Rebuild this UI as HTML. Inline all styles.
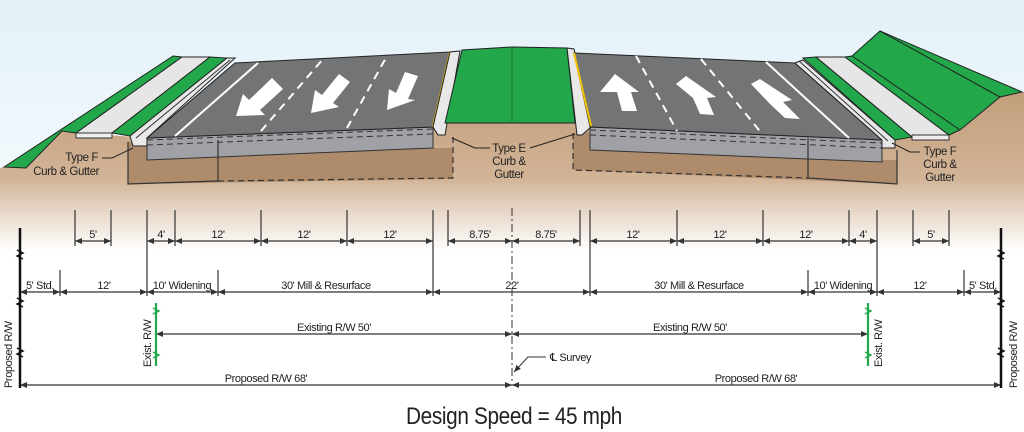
<!DOCTYPE html>
<html><head><meta charset="utf-8"><style>
html,body{margin:0;padding:0;background:#fff}
svg{display:block}
text{font-family:"Liberation Sans",sans-serif;fill:#222;letter-spacing:-0.4px}
</style></head><body>
<svg width="1024" height="432" viewBox="0 0 1024 432" xmlns="http://www.w3.org/2000/svg">
<defs>
<linearGradient id="sky" x1="0" y1="0" x2="0" y2="1"><stop offset="0" stop-color="#e3f1f8"/><stop offset="1" stop-color="#f4fafd"/></linearGradient>
<linearGradient id="grd" x1="0" y1="0" x2="0" y2="1"><stop offset="0" stop-color="#c19e7b"/><stop offset="0.55" stop-color="#d2b497"/><stop offset="1" stop-color="#ffffff"/></linearGradient>
<marker id="a" markerWidth="8" markerHeight="8" refX="7" refY="4" orient="auto-start-reverse" markerUnits="userSpaceOnUse"><path d="M0,1 L7,4 L0,7 z" fill="#333"/></marker>
</defs>
<rect width="1024" height="432" fill="#fff"/>
<rect width="1024" height="200" fill="url(#sky)"/>
<path d="M0,168 L4,167 L62,131 L145,138 L433,127 L450,123 L575,123 L590,127 L882,140 L960,130 L1000,97 L1024,92 L1024,250 L0,250 z" fill="url(#grd)"/>
<path d="M128,142 L147,140 L147,160 L433,148 L453,148 L453,179 L128,184 z" fill="#ad8b6b"/>
<path d="M147,138 L433,127 L433,148 L147,160 z" fill="#9fa1a6" stroke="#333" stroke-width="1"/>
<path d="M128,142 L128,184 L218,181" fill="none" stroke="#333" stroke-width="1.2"/>
<path d="M218,181 L453,178 L453,136" fill="none" stroke="#333" stroke-width="1.2" stroke-dasharray="6,4"/>
<line x1="218" y1="140" x2="218" y2="181" stroke="#333" stroke-width="1.2"/>
<path d="M147,140 L433,129 M147,145 L433,134" stroke="#333" stroke-width="1" stroke-dasharray="6,4"/>
<path d="M573,133 L590,132 L590,150 L882,160 L897,160 L897,184 L573,170 z" fill="#ad8b6b"/>
<path d="M590,127 L882,140 L882,162 L590,150 z" fill="#9fa1a6" stroke="#333" stroke-width="1"/>
<path d="M573,133 L573,170 L808,178" fill="none" stroke="#333" stroke-width="1.2" stroke-dasharray="6,4"/>
<path d="M808,138 L808,178 L897,184 L897,150" fill="none" stroke="#333" stroke-width="1.2"/>
<path d="M590,130 L882,143 M590,135 L882,148" stroke="#333" stroke-width="1" stroke-dasharray="6,4"/>
<path d="M4,167 L173,56 L182,57 L76,133 L62,131 L26,168 z" fill="#22a84a" stroke="#222" stroke-width="1"/>
<path d="M76,133 L182,57 L210,57 L112,133 z" fill="#e6e6e6" stroke="#222" stroke-width="1"/>
<rect x="76" y="133" width="36" height="5" fill="#eee" stroke="#333" stroke-width="1"/>
<path d="M112,133 L210,57 L227,58 L130,136 z" fill="#22a84a" stroke="#222" stroke-width="1"/>
<path d="M130,136 L227,58 L235,58 L147,138 L147,146 L133,146 z" fill="#e8e8e8" stroke="#222" stroke-width="1"/>
<line x1="136" y1="138" x2="230" y2="60" stroke="#333"/>
<path d="M147,138 L235,63 L450,52 L433,127 z" fill="#737476" stroke="#222" stroke-width="1"/>
<line x1="175" y1="136" x2="258" y2="63" stroke="#fff" stroke-width="2"/>
<line x1="261" y1="131" x2="323" y2="59" stroke="#fff" stroke-width="2" stroke-dasharray="8,6"/>
<line x1="347" y1="128" x2="387" y2="56" stroke="#fff" stroke-width="2" stroke-dasharray="8,6"/>
<line x1="433" y1="127" x2="450" y2="52" stroke="#f2c200" stroke-width="2"/>
<path d="M236,116 L243,94 L249,100 L272,78 L283,89 L260,110 L265,115 z" fill="#fff"/>
<path d="M311,113 L315,90 L322,95 L339,74 L350,82 L333,103 L339,107 z" fill="#fff"/>
<path d="M387,110 L389,89 L396,93 L405,72 L418,76 L408,99 L415,100 z" fill="#fff"/>
<path d="M433,127 L450,52 L460,51 L445,135 L438,135 z" fill="#e8e8e8" stroke="#222" stroke-width="1"/>
<path d="M445,123 L462,50 L512,47 L567,48 L575,123 z" fill="#22a84a" stroke="#222" stroke-width="1"/>
<line x1="512" y1="47" x2="512" y2="123" stroke="#1a7a35"/>
<path d="M567,48 L574,49 L591,127 L582,135 L577,135 z" fill="#e8e8e8" stroke="#222" stroke-width="1"/>
<path d="M574,53 L795,63 L882,140 L590,127 z" fill="#737476" stroke="#222" stroke-width="1"/>
<line x1="574" y1="53" x2="591" y2="126" stroke="#f2c200" stroke-width="2"/>
<line x1="636" y1="56" x2="677" y2="131" stroke="#fff" stroke-width="2" stroke-dasharray="8,6"/>
<line x1="701" y1="59" x2="763" y2="135" stroke="#fff" stroke-width="2" stroke-dasharray="8,6"/>
<line x1="766" y1="62" x2="849" y2="138" stroke="#fff" stroke-width="2"/>
<path d="M600,92 L615,74 L639,92 L631,92 L637,111 L622,111 L617,92 z" fill="#fff"/>
<path d="M676,84 L686,76 L716,97 L707,98 L714,115 L700,114 L693,98 z" fill="#fff"/>
<path d="M751,84 L760,79 L792,100 L783,102 L800,119 L785,118 L770,104 z" fill="#fff"/>
<path d="M795,63 L803,60 L895,140 L895,148 L882,148 L882,140 z" fill="#e8e8e8" stroke="#222" stroke-width="1"/>
<line x1="799" y1="61" x2="888" y2="141" stroke="#333"/>
<path d="M803,58 L816,57 L912,137 L895,140 z" fill="#22a84a" stroke="#222" stroke-width="1"/>
<path d="M816,57 L845,57 L949,135 L912,137 z" fill="#e6e6e6" stroke="#222" stroke-width="1"/>
<rect x="912" y="135" width="37" height="5" fill="#eee" stroke="#333" stroke-width="1"/>
<path d="M845,57 L852,56 L880,31 L1022,92 L1000,97 L960,130 L949,135 z" fill="#22a84a" stroke="#222" stroke-width="1"/>
<line x1="852" y1="56" x2="960" y2="130" stroke="#222"/>
<line x1="880" y1="31" x2="1000" y2="97" stroke="#222"/>
<g font-size="11.5" text-anchor="end">
<text x="98" y="161">Type F</text><text x="99" y="175">Curb &amp; Gutter</text>
</g>
<path d="M102,158 L112,158 L133,148" fill="none" stroke="#222"/>
<g font-size="11.5" text-anchor="middle">
<text x="509" y="152">Type E</text><text x="509" y="165">Curb &amp;</text><text x="509" y="178">Gutter</text>
<text x="940" y="155">Type F</text><text x="940" y="168">Curb &amp;</text><text x="940" y="181">Gutter</text>
</g>
<path d="M490,148 L475,148 L452,138 M530,148 L575,134" fill="none" stroke="#222"/>
<path d="M920,152 L910,152 L892,143" fill="none" stroke="#222"/>
<g stroke="#333" stroke-width="1.2" fill="none">
<path d="M75,210V246 M111,210V246 M147,210V296 M175,210V246 M261,210V246 M347,210V246 M433,210V296 M448,210V246 M580,210V246 M590,210V296 M677,210V246 M763,210V246 M849,210V246 M877,210V296 M913,210V246 M949,210V246"/>
<path d="M60,270V296 M218,270V296 M808,270V296 M964,270V296"/>
</g>
<g stroke="#333" stroke-width="1.2" marker-start="url(#a)" marker-end="url(#a)">
<line x1="75" y1="241" x2="111" y2="241"/><line x1="147" y1="241" x2="175" y2="241"/>
<line x1="175" y1="241" x2="261" y2="241"/><line x1="261" y1="241" x2="347" y2="241"/>
<line x1="347" y1="241" x2="433" y2="241"/><line x1="448" y1="241" x2="512" y2="241"/>
<line x1="512" y1="241" x2="580" y2="241"/><line x1="590" y1="241" x2="677" y2="241"/>
<line x1="677" y1="241" x2="763" y2="241"/><line x1="763" y1="241" x2="849" y2="241"/>
<line x1="849" y1="241" x2="877" y2="241"/><line x1="913" y1="241" x2="949" y2="241"/>
<line x1="20" y1="292" x2="60" y2="292"/><line x1="60" y1="292" x2="147" y2="292"/>
<line x1="147" y1="292" x2="218" y2="292"/><line x1="218" y1="292" x2="433" y2="292"/>
<line x1="433" y1="292" x2="590" y2="292"/><line x1="590" y1="292" x2="808" y2="292"/>
<line x1="808" y1="292" x2="877" y2="292"/><line x1="877" y1="292" x2="964" y2="292"/>
<line x1="964" y1="292" x2="1001" y2="292"/>
<line x1="156" y1="334" x2="512" y2="334"/><line x1="512" y1="334" x2="868" y2="334"/>
<line x1="20" y1="385" x2="512" y2="385"/><line x1="512" y1="385" x2="1001" y2="385"/>
</g>
<line x1="512" y1="208" x2="512" y2="382" stroke="#333" stroke-width="1" stroke-dasharray="8,3,2,3"/>
<g stroke="#111" stroke-width="2.5" fill="none"><path d="M20,228V388 M1001,228V388"/></g>
<g stroke="#111" stroke-width="1.5" fill="none">
<path d="M17,250l6,3l-6,3l6,3 M17,298l6,3l-6,3l6,3 M17,348l6,3l-6,3l6,3 M998,250l6,3l-6,3l6,3 M998,298l6,3l-6,3l6,3 M998,348l6,3l-6,3l6,3"/>
</g>
<g stroke="#22a84a" stroke-width="2.2" fill="none">
<path d="M156,303V366 M868,303V366"/>
<path d="M153,308l6,3l-6,3 M153,352l6,3l-6,3 M865,308l6,3l-6,3 M865,352l6,3l-6,3" stroke-width="1.4"/>
</g>
<g font-size="11" text-anchor="middle">
<text x="93" y="238">5'</text><text x="161" y="238">4'</text><text x="218" y="238">12'</text>
<text x="304" y="238">12'</text><text x="390" y="238">12'</text><text x="480" y="238">8.75'</text>
<text x="546" y="238">8.75'</text><text x="633" y="238">12'</text><text x="720" y="238">12'</text>
<text x="806" y="238">12'</text><text x="863" y="238">4'</text><text x="931" y="238">5'</text>
<text x="40" y="289">5' Std.</text><text x="104" y="289">12'</text><text x="182" y="289">10' Widening</text>
<text x="326" y="289">30' Mill &amp; Resurface</text><text x="512" y="289">22'</text>
<text x="699" y="289">30' Mill &amp; Resurface</text><text x="843" y="289">10' Widening</text>
<text x="920" y="289">12'</text><text x="983" y="289">5' Std.</text>
<text x="334" y="331">Existing R/W 50'</text><text x="690" y="331">Existing R/W 50'</text>
<text x="266" y="382">Proposed R/W 68'</text><text x="756" y="382">Proposed R/W 68'</text>
</g>
<text font-size="11" transform="translate(12,388) rotate(-90)">Proposed R/W</text>
<text font-size="11" transform="translate(1017,388) rotate(-90)">Proposed R/W</text>
<text font-size="11" transform="translate(151,367) rotate(-90)">Exist. R/W</text>
<text font-size="11" transform="translate(882,367) rotate(-90)">Exist. R/W</text>
<text x="550" y="361" font-size="11">℄ Survey</text>
<path d="M546,357 L528,357 L514,372" fill="none" stroke="#333" marker-end="url(#a)"/>
<text x="406" y="424" font-size="24" textLength="216" lengthAdjust="spacingAndGlyphs" fill="#111">Design Speed = 45 mph</text>
</svg>
</body></html>
